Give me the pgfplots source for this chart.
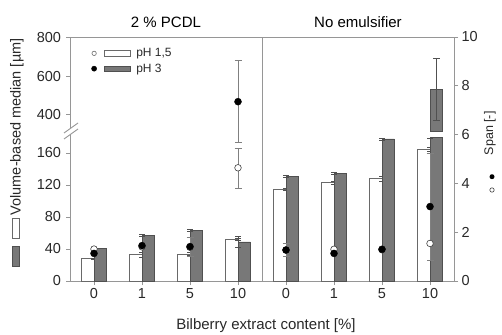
\documentclass[border=0pt]{standalone}
\usepackage{pgfplots}
\usepackage{pgfplotstable}
\pgfplotsset{compat=1.18}
\usepackage{fontspec}
\setmainfont{Liberation Sans}
\definecolor{axgray}{RGB}{150,150,150}
\definecolor{barfill}{RGB}{120,120,120}
\definecolor{baredge}{RGB}{80,80,80}
\definecolor{whiteedge}{RGB}{105,105,105}
\definecolor{txt}{RGB}{40,40,40}

% medians [um]: positions 0.5..3.5 = 2 % PCDL (0,1,5,10 %), 4.5..7.5 = no emulsifier
\pgfplotstableread{
x   white werr gray  gerr
0.5 28    0.6  41    1
1.5 33    3    57.5  1
2.5 34    1.5  63.5  1
3.5 52    1    49    7
4.5 115   1    131   1.5
5.5 123   2    134.5 1.5
6.5 128   3    177.5 1
7.5 165   2.5  179   0
}\medians

% span [-]
\pgfplotstableread{
x   s15  e15p e15m s3   e3p  e3m
0.5 1.31 0    0    1.13 0    0
1.5 1.40 0    0    1.45 0    0
2.5 1.38 0    0    1.41 0.40 0.40
3.5 4.64 0.82 0.84 7.35 1.71 1.68
4.5 1.27 0    0    1.27 0.27 0.25
5.5 1.30 0    0    1.13 0    0
6.5 1.28 0    0    1.30 0    0
7.5 1.54 0    0    3.05 2.20 2.20
}\spans

\begin{document}
\begin{tikzpicture}
\path[use as bounding box] (-70pt,-53pt) rectangle (432pt,281pt);
\begin{axis}[
  at={(0pt,0pt)}, anchor=south west,
  scale only axis, width=384pt, height=244pt,
  xmin=0, xmax=8, ymin=0, ymax=305,
  y filter/.expression={y<190 ? y : 160+(y-200)*0.2406},
  axis line style={axgray, line width=0.9pt},
  major tick style={axgray, line width=0.9pt},
  tick align=outside, major tick length=4pt,
  xtick pos=bottom, ytick pos=left,
  xtick={0.5,1.5,...,7.5},
  xticklabels={0,1,5,10,0,1,5,10},
  ytick={0,40,80,120,160,208.1,256.2,304.4},
  yticklabels={0,40,80,120,160,400,600,800},
  ticklabel style={font=\fontsize{14.5}{16}\selectfont, text=txt},
  yticklabel style={xshift=-1.5pt},
  /pgf/number format/assume math mode=true,
  clip=false,
]
\addplot[ybar, bar width=0.26, bar shift=-0.13, fill=white, draw=whiteedge, line width=0.6pt,
  error bars/.cd, y dir=both, y explicit,
  error bar style={baredge, line width=0.6pt},
  error mark options={rotate=90, mark size=3pt, baredge}]
  table[x=x, y=white, y error=werr]{\medians};
\addplot[ybar, bar width=0.26, bar shift=0.13, fill=barfill, draw=baredge, line width=0.6pt,
  error bars/.cd, y dir=both, y explicit,
  error bar style={baredge, line width=0.6pt},
  error mark options={rotate=90, mark size=3pt, baredge}]
  table[x=x, y=gray, y error=gerr]{\medians};
% upper part of the broken bar (No emulsifier, 10 %, pH 3)
\addplot[fill=barfill, draw=baredge, line width=0.6pt] coordinates
  {(7.5,312) (7.76,312) (7.76,532) (7.5,532)} -- cycle;
\addplot[baredge, line width=0.6pt, mark=-, mark size=3.5pt, mark options={baredge}] coordinates
  {(7.63,371) (7.63,690)};
% panel divider
\draw[axgray, line width=0.9pt] (rel axis cs:0.5,0) -- (rel axis cs:0.5,1);
% axis break
\fill[white] (-6pt,142pt) -- (8pt,152pt) -- (8pt,158pt) -- (-6pt,148pt) -- cycle;
\draw[axgray, line width=0.9pt] (-6pt,142pt) -- (8pt,152pt);
\draw[axgray, line width=0.9pt] (-6pt,148pt) -- (8pt,158pt);
% titles
\node[font=\fontsize{15}{17}\selectfont] at (rel axis cs:0.25,1) [yshift=14.5pt] {2 \% PCDL};
\node[font=\fontsize{15}{17}\selectfont] at (rel axis cs:0.75,1) [yshift=14.5pt] {No emulsifier};
\end{axis}

\begin{axis}[
  at={(0pt,0pt)}, anchor=south west,
  scale only axis, width=384pt, height=244pt,
  xmin=0, xmax=8, ymin=0, ymax=10,
  axis x line=none, axis y line*=right,
  axis line style={axgray, line width=0.9pt},
  major tick style={axgray, line width=0.9pt},
  tick align=outside, major tick length=4pt,
  ytick={0,2,...,10},
  ticklabel style={font=\fontsize{14.5}{16}\selectfont, text=txt},
  /pgf/number format/assume math mode=true,
  legend style={at={(0.055,0.962)}, anchor=north west, draw=none, fill=none,
    font=\fontsize{12}{12}\selectfont, row sep=1.5pt, inner sep=0pt,
    cells={anchor=west}, text=txt},
  clip=false,
]
\addlegendimage{legend image code/.code={
  \draw[whiteedge, fill=white, line width=0.6pt] (0pt,0pt) circle (2.2pt);
  \draw[whiteedge, fill=white, line width=0.6pt] (10pt,-2.6pt) rectangle (36pt,2.6pt);
  \path (40pt,0pt);}}
\addlegendentry{pH 1,5}
\addlegendimage{legend image code/.code={
  \fill[black] (0pt,0pt) circle (2.6pt);
  \draw[baredge, fill=barfill, line width=0.6pt] (10pt,-2.6pt) rectangle (36pt,2.6pt);
  \path (40pt,0pt);}}
\addlegendentry{pH 3}

\addplot[only marks, mark=*, mark size=3.3pt, mark options={fill=white, draw=black!75, line width=0.6pt},
  error bars/.cd, y dir=both, y explicit,
  error bar style={gray, line width=0.8pt},
  error mark options={rotate=90, mark size=3.5pt, gray}]
  table[x=x, y=s15, y error plus=e15p, y error minus=e15m]{\spans};
\addplot[only marks, mark=*, mark size=3.5pt, mark options={fill=black, draw=black},
  error bars/.cd, y dir=both, y explicit,
  error bar style={gray, line width=0.8pt},
  error mark options={rotate=90, mark size=3.5pt, gray}]
  table[x=x, y=s3, y error plus=e3p, y error minus=e3m]{\spans};
\end{axis}

% axis labels
\node[rotate=90, font=\fontsize{14.5}{16}\selectfont, text=txt] at (-53pt,128.5pt)
  {\tikz[baseline=0pt]\draw[baredge, fill=barfill, line width=0.6pt] (0pt,1.8pt) rectangle (20pt,8.8pt);\hspace{7pt}%
   \tikz[baseline=0pt]\draw[whiteedge, fill=white, line width=0.6pt] (0pt,1.8pt) rectangle (20pt,8.8pt);\hspace{3pt}%
   Volume-based median [µm]};
\node[rotate=90, font=\fontsize{12.5}{14}\selectfont, text=txt] at (420pt,147.7pt) {Span [-]};
\node[font=\fontsize{8}{8}\selectfont] at (422pt,104.3pt) {\tikz\fill[black] (0,0) circle (2.5pt);};
\node[font=\fontsize{8}{8}\selectfont] at (422pt,91pt) {\tikz\draw[black!75, line width=0.6pt] (0,0) circle (2.2pt);};
\node[font=\fontsize{15}{17}\selectfont, text=txt] at (196pt,-44.7pt) {Bilberry extract content [\%]};
\end{tikzpicture}
\end{document}
